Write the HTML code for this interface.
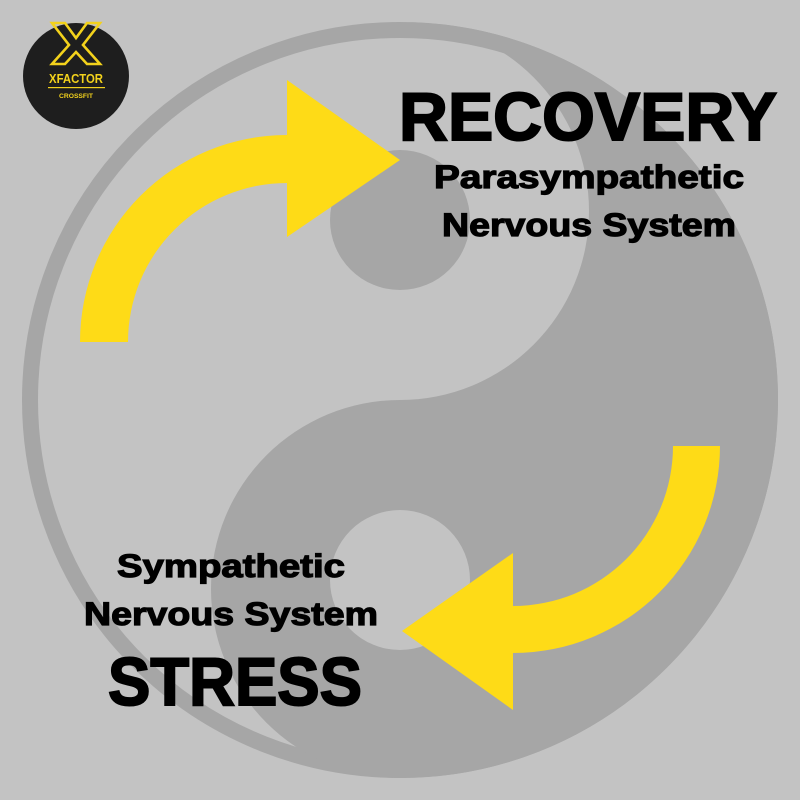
<!DOCTYPE html>
<html><head><meta charset="utf-8"><style>
html,body{margin:0;padding:0;background:#c3c3c3;}
svg{display:block}
text{font-family:"Liberation Sans",sans-serif;font-weight:bold;fill:#000}
.b{stroke:#000;stroke-width:1.2}
.bb{stroke:#000;stroke-width:2}
</style></head><body>
<svg width="800" height="800" viewBox="0 0 800 800" xmlns="http://www.w3.org/2000/svg">
<rect width="800" height="800" fill="#c3c3c3"/>
<circle cx="400" cy="400" r="370" fill="none" stroke="#a6a6a6" stroke-width="16"/>
<path d="M400,22 A378,378 0 0 1 400,778 A189,189 0 0 1 400,400 A189,189 0 0 0 400,22 Z" fill="#a6a6a6"/>
<circle cx="400" cy="220" r="70" fill="#a6a6a6"/>
<circle cx="400" cy="580" r="70" fill="#c3c3c3"/>
<path d="M80,342 A207,207 0 0 1 287,135 L287,183 A159,159 0 0 0 128,342 Z" fill="#fedb17"/>
<polygon points="287,80 400,160 287,237" fill="#fedb17"/>
<path d="M720,446 A207,207 0 0 1 513,653 L513,606 A160,160 0 0 0 673,446 Z" fill="#fedb17"/>
<polygon points="513,553 402,631 513,710" fill="#fedb17"/>
<text class="bb" x="588" y="140" font-size="68" text-anchor="middle" textLength="378" lengthAdjust="spacingAndGlyphs">RECOVERY</text>
<text class="b" x="589" y="188" font-size="32" text-anchor="middle" textLength="310" lengthAdjust="spacingAndGlyphs">Parasympathetic</text>
<text class="b" x="589" y="236" font-size="32" text-anchor="middle" textLength="294" lengthAdjust="spacingAndGlyphs">Nervous System</text>
<text class="b" x="231" y="577" font-size="32" text-anchor="middle" textLength="228" lengthAdjust="spacingAndGlyphs">Sympathetic</text>
<text class="b" x="231" y="625" font-size="32" text-anchor="middle" textLength="294" lengthAdjust="spacingAndGlyphs">Nervous System</text>
<text class="bb" x="235" y="705" font-size="68" text-anchor="middle" textLength="254" lengthAdjust="spacingAndGlyphs">STRESS</text>
<circle cx="76" cy="76" r="53" fill="#1e1e1e"/>
<path d="M52,23 L65,23 L76,38 L87,23 L100,23 L83,45 L100,64 L87,64 L76,52 L65,64 L52,64 L69,45 Z" fill="none" stroke="#f3d21c" stroke-width="2.6" stroke-linejoin="miter"/>
<text x="76" y="83" font-size="12.5" text-anchor="middle" style="fill:#f3d21c" textLength="54" lengthAdjust="spacingAndGlyphs">XFACTOR</text>
<rect x="48" y="87" width="57" height="1.2" fill="#f3d21c"/>
<text x="76" y="98" font-size="6.5" text-anchor="middle" style="fill:#f3d21c" textLength="34" lengthAdjust="spacingAndGlyphs">CROSSFIT</text>
</svg>
</body></html>
